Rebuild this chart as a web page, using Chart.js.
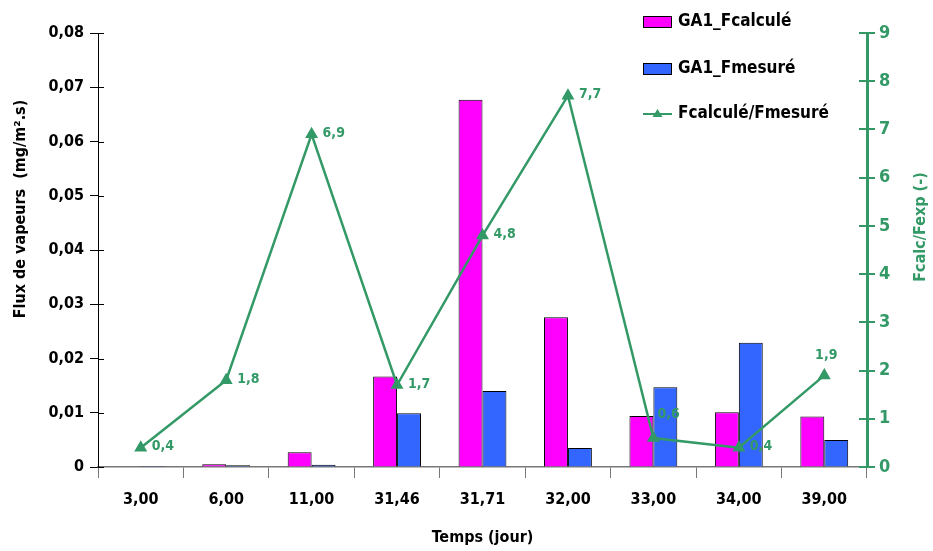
<!DOCTYPE html>
<html>
<head>
<meta charset="utf-8">
<script src="https://cdn.jsdelivr.net/npm/chart.js@4.4.0/dist/chart.umd.min.js"></script>
<style>
  html, body { margin: 0; padding: 0; background: #fff; }
  canvas { display: block; }
</style>
</head>
<body>
<canvas id="graphique" width="933" height="551"></canvas>
<script>
// Temps (jour)
const temps = ["3,00", "6,00", "11,00", "31,46", "31,71", "32,00", "33,00", "34,00", "39,00"];
// Flux de vapeurs (mg/m2.s)
const fluxCalcule = [0.0001, 0.0005, 0.0027, 0.0167, 0.0677, 0.0276, 0.0094, 0.0101, 0.0093];
const fluxMesure = [0.0002, 0.0003, 0.0004, 0.0099, 0.0140, 0.0035, 0.0147, 0.0229, 0.0050];
// rapport Fcalc/Fexp
const rapport = [0.4, 1.8, 6.9, 1.7, 4.8, 7.7, 0.6, 0.4, 1.9];

const vert = '#339966';
const police = '"DejaVu Sans Condensed", "Liberation Sans Narrow", sans-serif';

// graduations vers l'intérieur, titres verticaux, étiquettes de la courbe, légende
const decorations = {
    id: 'decorations',
    afterDraw(chart) {
        const ctx = chart.ctx;
        const area = chart.chartArea;
        const yG = chart.scales.y;
        const yD = chart.scales.y1;

        ctx.save();
        ctx.lineWidth = 1;
        ctx.strokeStyle = '#000';
        yG.ticks.forEach((t, i) => {
            const py = Math.round(yG.getPixelForTick(i)) + 0.5;
            ctx.beginPath();
            ctx.moveTo(area.left, py);
            ctx.lineTo(area.left + 6, py);
            ctx.stroke();
        });
        ctx.lineWidth = 2;
        ctx.strokeStyle = vert;
        yD.ticks.forEach((t, i) => {
            const py = Math.round(yD.getPixelForTick(i));
            ctx.beginPath();
            ctx.moveTo(area.right - 8, py);
            ctx.lineTo(area.right, py);
            ctx.stroke();
        });

        // titres des axes verticaux (lus de bas en haut)
        ctx.font = 'bold 16px ' + police;
        ctx.textAlign = 'center';
        ctx.textBaseline = 'middle';
        ctx.fillStyle = '#000';
        ctx.save();
        ctx.translate(21, 209);
        ctx.rotate(-Math.PI / 2);
        ctx.fillText('Flux de vapeurs  (mg/m².s)', 0, 0);
        ctx.restore();
        ctx.fillStyle = vert;
        ctx.save();
        ctx.translate(921, 227);
        ctx.rotate(-Math.PI / 2);
        ctx.fillText('Fcalc/Fexp (-)', 0, 0);
        ctx.restore();

        // étiquettes de valeurs
        const meta = chart.getDatasetMeta(2);
        ctx.fillStyle = vert;
        ctx.font = 'bold 14px ' + police;
        meta.data.forEach((pt, i) => {
            const txt = rapport[i].toFixed(1).replace('.', ',');
            if (i === rapport.length - 1) {
                ctx.textAlign = 'center';
                ctx.fillText(txt, pt.x + 2, pt.y - 20);
            } else if (i === 6) {
                ctx.textAlign = 'left';
                ctx.fillText(txt, pt.x + 4, pt.y - 24);
            } else {
                ctx.textAlign = 'left';
                ctx.fillText(txt, pt.x + 11, pt.y - 1);
            }
        });

        // légende
        const lx = 643;
        const rows = [22, 69, 114];
        ctx.font = 'bold 17px ' + police;
        ctx.textAlign = 'left';
        chart.data.datasets.forEach((ds, i) => {
            const cy = rows[i];
            if (ds.type === 'line') {
                ctx.strokeStyle = vert;
                ctx.lineWidth = 2;
                ctx.beginPath();
                ctx.moveTo(lx, cy);
                ctx.lineTo(lx + 29, cy);
                ctx.stroke();
                ctx.fillStyle = vert;
                ctx.beginPath();
                ctx.moveTo(lx + 14.5, cy - 5);
                ctx.lineTo(lx + 19.5, cy + 3);
                ctx.lineTo(lx + 9.5, cy + 3);
                ctx.closePath();
                ctx.fill();
            } else {
                ctx.fillStyle = ds.backgroundColor;
                ctx.fillRect(lx, cy - 6, 29, 12);
                ctx.strokeStyle = '#000';
                ctx.lineWidth = 1;
                ctx.strokeRect(lx + 0.5, cy - 5.5, 28, 11);
            }
            ctx.fillStyle = '#000';
            ctx.fillText(ds.label, lx + 35, cy);
        });
        ctx.restore();
    }
};

const ctx = document.getElementById('graphique').getContext('2d');
const myChart = new Chart(ctx, {
    data: {
        labels: temps,
        datasets: [{
            type: 'bar',
            label: 'GA1_Fcalculé',
            data: fluxCalcule,
            backgroundColor: '#FF00FF',
            borderColor: '#000',
            borderWidth: 1,
            yAxisID: 'y',
            order: 2,
            categoryPercentage: 0.56,
            barPercentage: 1
        }, {
            type: 'bar',
            label: 'GA1_Fmesuré',
            data: fluxMesure,
            backgroundColor: '#3366FF',
            borderColor: '#000',
            borderWidth: 1,
            yAxisID: 'y',
            order: 2,
            categoryPercentage: 0.56,
            barPercentage: 1
        }, {
            type: 'line',
            label: 'Fcalculé/Fmesuré',
            data: rapport,
            borderColor: vert,
            backgroundColor: vert,
            borderWidth: 2.5,
            pointStyle: 'triangle',
            pointRadius: 5,
            tension: 0,
            yAxisID: 'y1',
            order: 0
        }]
    },
    options: {
        responsive: false,
        animation: false,
        layout: { padding: { top: 33, right: 0, left: 0, bottom: 0 } },
        plugins: {
            legend: { display: false },
            tooltip: { enabled: false }
        },
        scales: {
            x: {
                offset: true,
                grid: {
                    offset: true,
                    drawOnChartArea: false,
                    tickLength: 11,
                    color: '#777'
                },
                border: { color: '#777', width: 1.5 },
                ticks: {
                    color: '#000',
                    font: { family: police, weight: 'bold', size: 16 },
                    padding: 12
                },
                title: {
                    display: true,
                    text: 'Temps (jour)',
                    color: '#000',
                    font: { family: police, weight: 'bold', size: 16 },
                    padding: { top: 10 }
                },
                afterFit(scale) { scale.height = 84; }
            },
            y: {
                position: 'left',
                min: 0,
                max: 0.08,
                grid: {
                    drawOnChartArea: false,
                    tickLength: 8,
                    color: '#000'
                },
                border: { color: '#000', width: 1 },
                ticks: {
                    stepSize: 0.01,
                    color: '#000',
                    font: { family: police, weight: 'bold', size: 16 },
                    padding: 6,
                    callback: v => v === 0 ? '0' : v.toFixed(2).replace('.', ',')
                },
                afterFit(scale) { scale.width = 98; }
            },
            y1: {
                position: 'right',
                min: 0,
                max: 9,
                grid: {
                    drawOnChartArea: false,
                    tickLength: 8,
                    color: vert,
                    lineWidth: 2
                },
                border: { color: vert, width: 3 },
                ticks: {
                    stepSize: 1,
                    color: vert,
                    font: { family: police, weight: 'bold', size: 18 },
                    padding: 4
                },
                afterFit(scale) { scale.width = 66; }
            }
        }
    },
    plugins: [decorations]
});
</script>
</body>
</html>
